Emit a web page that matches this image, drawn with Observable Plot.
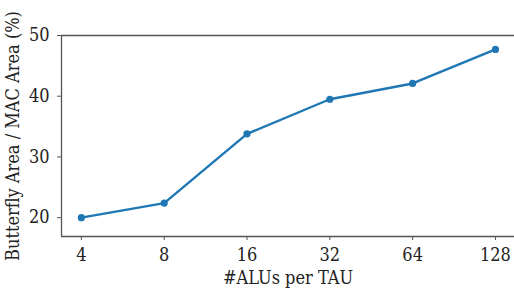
<!DOCTYPE html>
<html><head><meta charset="utf-8">
<script src="https://cdn.jsdelivr.net/npm/d3@7"></script>
<script src="https://cdn.jsdelivr.net/npm/@observablehq/plot@0.6"></script>
<style>body{margin:0;background:#fff} svg text{font-stretch:condensed}</style>
</head><body><div id="chart"></div>
<script>
const aluLabels = ["4", "8", "16", "32", "64", "128"];
const ratio = [20.0, 22.4, 33.8, 39.5, 42.1, 47.7];
const yTicks = [20, 30, 40, 50];

const data = aluLabels.map((l, i) => ({i, label: l, v: ratio[i]}));
const font = "'DejaVu Serif Condensed', 'DejaVu Serif', serif";
const spine = "#555";

const chart = Plot.plot({
  width: 514, height: 290,
  marginLeft: 61, marginRight: 0, marginTop: 35, marginBottom: 54,
  style: {fontFamily: font, fontSize: "18px", color: "#222", background: "#fff"},
  x: {type: "linear", domain: [-0.24, 5.23]},
  y: {domain: [16.9, 50]},
  marks: [
    Plot.axisX(aluLabels.map((_, i) => i), {tickFormat: i => aluLabels[i], tickSize: 4, tickPadding: 8, stroke: spine, label: null, fontSize: 18}),
    Plot.axisY(yTicks, {tickSize: 4, tickPadding: 8, stroke: spine, label: null, fontSize: 18}),
    Plot.text(["#ALUs per TAU"], {frameAnchor: "bottom", dy: 35, fontSize: 18, lineAnchor: "top"}),
    Plot.text(["Butterfly Area / MAC Area (%)"], {frameAnchor: "left", dx: -48, rotate: -90, textAnchor: "middle", fontSize: 18}),
    Plot.ruleX([-0.24], {stroke: spine, strokeWidth: 1.3}),
    Plot.ruleY([16.9], {stroke: spine, strokeWidth: 1.3}),
    Plot.ruleY([50], {stroke: spine, strokeWidth: 1.3}),
    Plot.line(data, {x: "i", y: "v", stroke: "#1f77b4", strokeWidth: 2.4}),
    Plot.dot(data, {x: "i", y: "v", fill: "#1f77b4", r: 3.6})
  ]
});
document.getElementById("chart").appendChild(chart);
</script></body></html>
